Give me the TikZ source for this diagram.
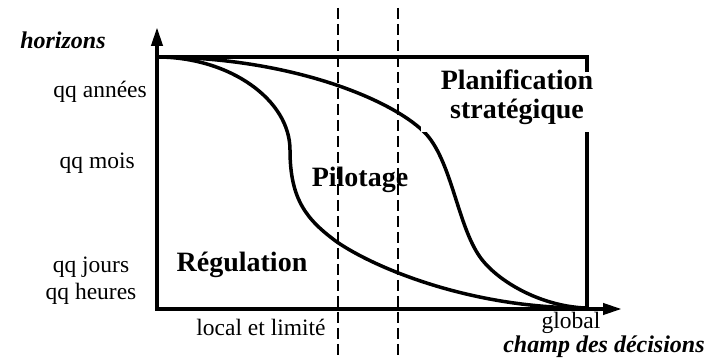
\documentclass[tikz,border=0pt]{standalone}
\usepackage{fontspec}
\setmainfont{Liberation Serif}
\usetikzlibrary{arrows.meta}
\begin{document}
\begin{tikzpicture}[x=1pt,y=-1pt,
  axis/.style={line width=4pt,line join=miter},
  frame/.style={line width=3.5pt},
  curve/.style={line width=3.5pt},
  guide/.style={line width=2pt,dash pattern=on 11pt off 5pt},
  lbl/.style={inner sep=0pt,font=\fontsize{23.5}{27}\selectfont,align=center},
  zone/.style={inner sep=0pt,font=\fontsize{28}{29}\selectfont\bfseries,align=center},
  axlbl/.style={inner sep=0pt,font=\fontsize{24}{28}\selectfont\bfseries\itshape}]
\useasboundingbox (0,0) rectangle (715,363);
% coordinates
\coordinate (O) at (157,309);
\coordinate (ytip) at (157,27);
\coordinate (xtip) at (622,309);
\coordinate (TL) at (157,57);
\coordinate (TR) at (587,57);
\coordinate (BR) at (587,309);
\coordinate (E) at (585,308);
% frame
\draw[frame] (TL) -- (TR) -- (BR);
% curves
\draw[curve] (TL) .. controls (230,57) and (290,100) .. (290,150)
  .. controls (290,200) and (307,220) .. (337,242)
  .. controls (375,268) and (470,308) .. (E);
\draw[curve] (TL) .. controls (290,57) and (395,100) .. (427,135)
  .. controls (452,164) and (458,226) .. (480,257)
  .. controls (497,281) and (540,306) .. (E);
% axes
\draw[axis,{Triangle[length=19pt,width=11pt]}-{Triangle[length=19pt,width=11pt]}] (ytip) -- (O) -- (xtip);
% white box behind the upper right label
\fill[white] (421,72) rectangle (600,132);
\node[zone] (plan) at (517,97) {Planification\\stratégique};
% dashed guides
\coordinate (d1t) at (338,8);
\coordinate (d1b) at (338,357);
\coordinate (d2t) at (398,8);
\coordinate (d2b) at (398,357);
\draw[guide] (d1t) -- (d1b);
\draw[guide] (d2t) -- (d2b);
% labels
\node[axlbl] (hor) at (63,40) {horizons};
\node[lbl,anchor=east] (ann) at (147,92) {qq années};
\node[lbl,anchor=east] (mois) at (135,163) {qq mois};
\node[lbl] (jours) at (91,281) {qq jours\\qq heures};
\node[zone] (reg) at (242,265) {Régulation};
\node[zone] (pil) at (360,180) {Pilotage};
\node[lbl] (loc) at (261,327) {local et limité};
\node[lbl] (glob) at (571,323) {global};
\node[axlbl] (champ) at (604,347) {champ des décisions};
\end{tikzpicture}
\end{document}
